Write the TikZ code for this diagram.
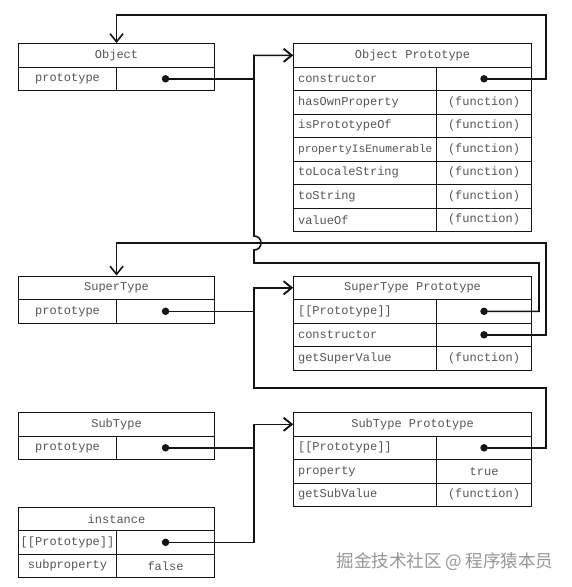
\documentclass[tikz,border=0pt]{standalone}
\usepackage{fontspec}
\setmonofont{Liberation Mono}
\newfontfamily\cjk{Noto Sans CJK SC}
\usetikzlibrary{arrows.meta}
\definecolor{ink}{RGB}{20,20,20}
\definecolor{textgray}{RGB}{85,85,85}
\definecolor{markgray}{RGB}{150,150,150}
\newcommand{\cellfont}{\fontsize{12}{14}\selectfont\ttfamily}
\newcommand{\squeeze}[1]{{\fontsize{11.2}{14}\selectfont #1}}

\tikzset{
  cell/.style={draw=ink, line width=1.1pt, minimum height=23.5pt, inner sep=0pt,
    anchor=north west, font=\cellfont, text=textgray},
  headcell/.style={cell, minimum width=#1},
  keycell/.style={cell, text width=#1, inner xsep=4.5pt, align=left},
  valcell/.style={cell, minimum width=#1},
  dot/.style={circle, fill=ink, inner sep=0pt, minimum size=7.5pt},
  link/.style={draw=ink, line width=1.6pt, -{Straight Barb[length=8pt,width=13pt]}},
}

\begin{document}
\begin{tikzpicture}[x=1pt,y=-1pt]
    \useasboundingbox[fill=white] (0,0) rectangle (572,587);

    % Object
    \node[headcell=196pt] (obj-t) at (18,43) {Object};
    \node[valcell=98pt] (obj-k) at (18,66.5) {prototype};
    \node[valcell=98pt] (obj-v) at (116,66.5) {};
    \node[dot] (obj-d) at (obj-v) {};

    % Object Prototype
    \node[headcell=238pt] (op-t) at (293,43) {Object Prototype};
    \node[keycell=134pt] (op-k1) at (293,66.5) {constructor};
    \node[valcell=95pt] (op-v1) at (436,66.5) {};
    \node[dot] (op-d1) at (op-v1) {};
    \foreach \k [count=\i from 2] in {hasOwnProperty,isPrototypeOf,{\squeeze{propertyIsEnumerable}},toLocaleString,toString,valueOf} {
        \node[keycell=134pt] (op-k\i) at (293,{66.5+(\i-1)*23.5}) {\k};
        \node[valcell=95pt] (op-v\i) at (436,{66.5+(\i-1)*23.5}) {(function)};
    }

    % SuperType
    \node[headcell=196pt] (sup-t) at (18,275.5) {SuperType};
    \node[valcell=98pt] (sup-k) at (18,299) {prototype};
    \node[valcell=98pt] (sup-v) at (116,299) {};
    \node[dot] (sup-d) at (sup-v) {};

    % SuperType Prototype
    \node[headcell=238pt] (sp-t) at (293,275.5) {SuperType Prototype};
    \node[keycell=134pt] (sp-k1) at (293,299) {[[Prototype]]};
    \node[valcell=95pt] (sp-v1) at (436,299) {};
    \node[dot] (sp-d1) at (sp-v1) {};
    \node[keycell=134pt] (sp-k2) at (293,322.5) {constructor};
    \node[valcell=95pt] (sp-v2) at (436,322.5) {};
    \node[dot] (sp-d2) at (sp-v2) {};
    \node[keycell=134pt] (sp-k3) at (293,346) {getSuperValue};
    \node[valcell=95pt] (sp-v3) at (436,346) {(function)};

    % SubType
    \node[headcell=196pt] (sub-t) at (18,412) {SubType};
    \node[valcell=98pt] (sub-k) at (18,435.5) {prototype};
    \node[valcell=98pt] (sub-v) at (116,435.5) {};
    \node[dot] (sub-d) at (sub-v) {};

    % SubType Prototype
    \node[headcell=238pt] (sb-t) at (293,412) {SubType Prototype};
    \node[keycell=134pt] (sb-k1) at (293,435.5) {[[Prototype]]};
    \node[valcell=95pt] (sb-v1) at (436,435.5) {};
    \node[dot] (sb-d1) at (sb-v1) {};
    \node[keycell=134pt] (sb-k2) at (293,459) {property};
    \node[valcell=95pt] (sb-v2) at (436,459) {true};
    \node[keycell=134pt] (sb-k3) at (293,482.5) {getSubValue};
    \node[valcell=95pt] (sb-v3) at (436,482.5) {(function)};

    % instance
    \node[headcell=196pt] (inst-t) at (18,506.5) {instance};
    \node[valcell=98pt] (inst-k1) at (18,530) {[[Prototype]]};
    \node[valcell=98pt] (inst-v1) at (116,530) {};
    \node[dot] (inst-d) at (inst-v1) {};
    \node[valcell=98pt] (inst-k2) at (18,553.5) {subproperty};
    \node[valcell=98pt] (inst-v2) at (116,553.5) {false};

    % watermark
    \node[font=\cjk\fontsize{17.5}{19}\selectfont, text=markgray] (mark) at (445,562) {掘金技术社区 @ 程序猿本员};

    % routing lines
    \coordinate (lbus) at (254,0);
    \coordinate (rbus) at (546,0);
    \coordinate (ibus) at (539,0);
    \coordinate (topline) at (0,15);
    \coordinate (supline) at (0,243);
    \coordinate (midline) at (0,263);
    \coordinate (lowline) at (0,388);
    \coordinate (hoplo) at (254,250);
    \coordinate (hophi) at (254,236);

    % links
    \draw[link] (obj-d.center) -- (obj-d -| lbus) |- (op-t.west);
    \draw[link] (op-d1.center) -- (op-d1 -| rbus) |- (topline -| obj-t.north) -- (obj-t.north);
    \draw[link] (sp-d1.center) -- (sp-d1 -| ibus) |- (midline -| lbus) -- (hoplo)
        .. controls ([xshift=9.3pt]hoplo) and ([xshift=9.3pt]hophi) .. (hophi)
        -- (op-t.west -| lbus) -- (op-t.west);
    \draw[link] (sp-d2.center) -- (sp-d2 -| rbus) |- (supline -| sup-t.north) -- (sup-t.north);
    \draw[link] (sup-d.center) -- (sup-d -| lbus) |- (sp-t.west);
    \draw[link] (sb-d1.center) -- (sb-d1 -| rbus) |- (lowline -| lbus) |- (sp-t.west);
    \draw[link] (sub-d.center) -- (sub-d -| lbus) |- (sb-t.west);
    \draw[link] (inst-d.center) -- (inst-d -| lbus) |- (sb-t.west);
\end{tikzpicture}
\end{document}
